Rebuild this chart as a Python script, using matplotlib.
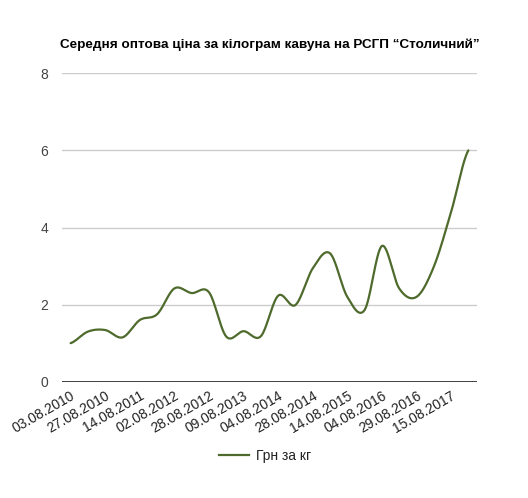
import numpy as np
import matplotlib
matplotlib.use("Agg")
import matplotlib.pyplot as plt
from matplotlib.lines import Line2D

plt.rcParams['font.family'] = ['Liberation Sans', 'DejaVu Sans']

title = "Середня оптова ціна за кілограм кавуна на РСГП “Столичний”"
series_name = "Грн за кг"
tick_labels = ["03.08.2010", "27.08.2010", "14.08.2011", "02.08.2012", "28.08.2012",
               "09.08.2013", "04.08.2014", "28.08.2014", "14.08.2015", "04.08.2016",
               "29.08.2016", "15.08.2017"]
values = [1.0, 1.30, 1.34, 1.15, 1.60, 1.75, 2.42, 2.30, 2.32, 1.17, 1.31, 1.18,
          2.23, 1.99, 2.94, 3.33, 2.20, 1.86, 3.52, 2.42, 2.20, 2.98, 4.40, 6.0]
y_ticks = [0, 2, 4, 6, 8]


def smooth(xs, ys, n=30):
    xs = np.asarray(xs, float); ys = np.asarray(ys, float)
    px = np.concatenate([[2 * xs[0] - xs[1]], xs, [2 * xs[-1] - xs[-2]]])
    py = np.concatenate([[ys[0]], ys, [ys[-1]]])
    ox, oy = [], []
    for i in range(1, len(px) - 2):
        t = np.linspace(0, 1, n, endpoint=False)
        p0, p1, p2, p3 = py[i - 1], py[i], py[i + 1], py[i + 2]
        m1 = (p2 - p0) / 2; m2 = (p3 - p1) / 2
        h00 = 2 * t**3 - 3 * t**2 + 1; h10 = t**3 - 2 * t**2 + t
        h01 = -2 * t**3 + 3 * t**2; h11 = t**3 - t**2
        oy.append(h00 * p1 + h10 * m1 + h01 * p2 + h11 * m2)
        ox.append(px[i] + t * (px[i + 1] - px[i]))
    ox.append([xs[-1]]); oy.append([ys[-1]])
    return np.concatenate(ox), np.concatenate(oy)


fig = plt.figure(figsize=(5.28, 4.98), dpi=100)
ax = fig.add_axes([62 / 528, 1 - 381.7 / 498, 415 / 528, 308.4 / 498])

x = np.arange(len(values))
sx, sy = smooth(x, values)
color = '#4e6a2c'
ax.plot(sx, sy, color=color, lw=1.6, solid_capstyle='round')

ax.set_xlim(-0.5, len(values) - 0.5)
ax.set_ylim(0, 8)
ax.set_yticks(y_ticks)
ax.set_yticklabels([str(v) for v in y_ticks], color='#444444', fontsize=10)
ax.grid(axis='y', color='#cccccc', lw=1)
ax.set_axisbelow(True)
ax.axhline(0, color='#333333', lw=1.3, zorder=3)
for s in ax.spines.values():
    s.set_visible(False)
ax.tick_params(axis='y', length=0, pad=10)
ax.tick_params(axis='x', length=0, pad=5)
ax.set_xticks(x[::2])
ax.set_xticklabels(tick_labels, rotation=30, ha='right', rotation_mode='anchor',
                   fontsize=10, color='#222222')

fig.text(269.5 / 528, 1 - 45 / 498, title, ha='center', va='center',
         fontsize=9.7, fontweight='bold', color='#000000')

fig.legend(handles=[Line2D([0], [0], color=color, lw=1.6)], labels=[series_name],
           loc='center', bbox_to_anchor=(265 / 528, 1 - 456 / 498), frameon=False,
           fontsize=10, handlelength=2.2, handletextpad=0.5, labelcolor='#222222')

fig.savefig('out.png', dpi=100)
